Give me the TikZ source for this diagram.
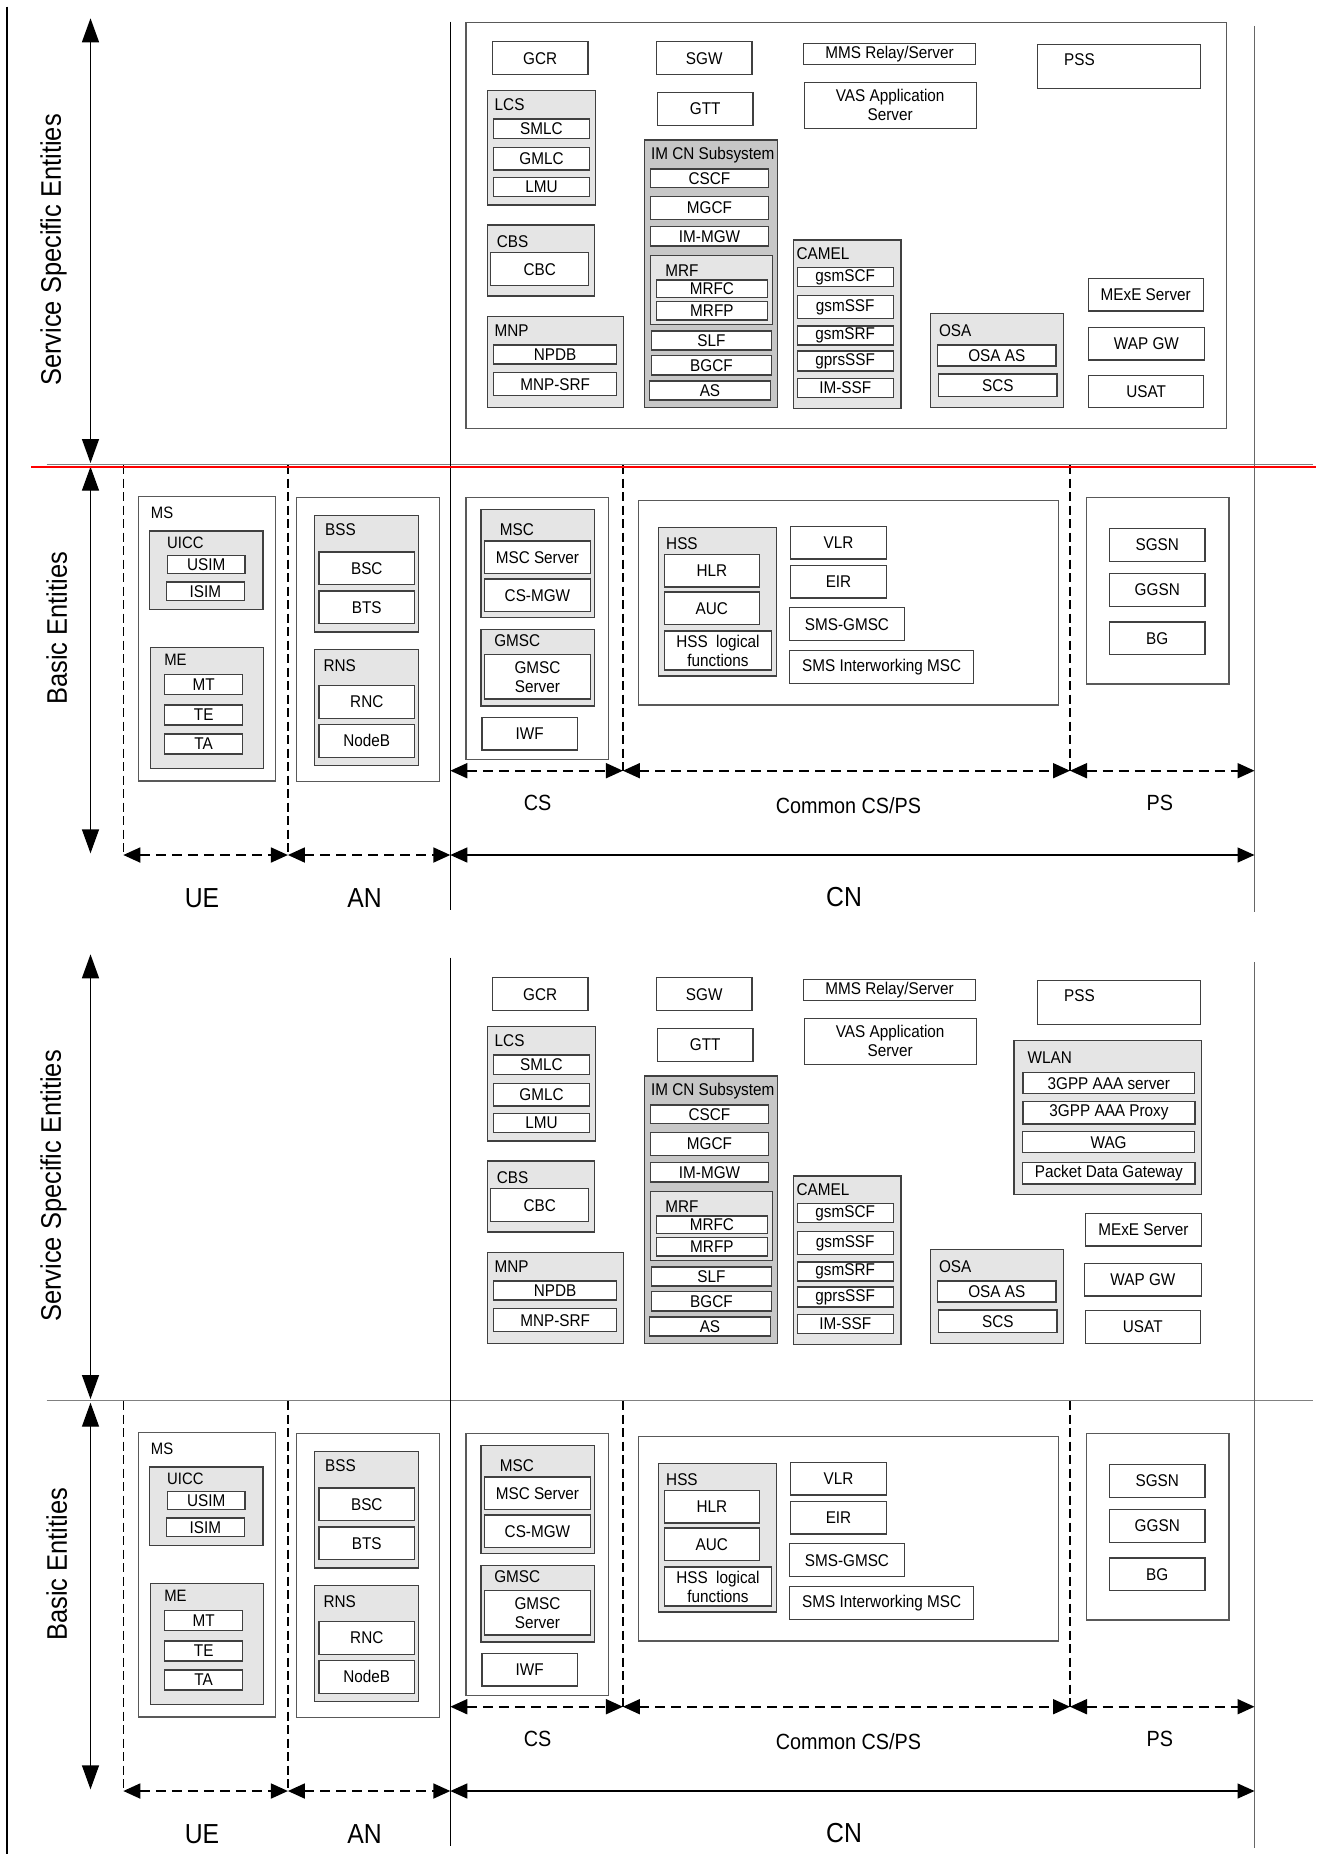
\documentclass[tikz,border=0pt]{standalone}
\usepackage{fontspec}
\setmainfont{Liberation Sans}[FakeStretch=0.9]
\usetikzlibrary{arrows.meta}
\tikzset{
  box/.style={draw=black!75, line width=1.2pt, fill=white, inner sep=0pt, align=center,
              font=\fontsize{17}{19}\selectfont},
  gfill/.style={fill=black!10},
  dfill/.style={fill=black!22},
  obox/.style={draw=black!65},
  lbl/.style={anchor=west, inner sep=0pt, font=\fontsize{17}{19}\selectfont},
  slbl/.style={anchor=west, inner sep=0pt, font=\fontsize{16.5}{19}\selectfont},
  midlbl/.style={inner sep=0pt, font=\fontsize{22}{24}\selectfont},
  biglbl/.style={inner sep=0pt, font=\fontsize{27.5}{30}\selectfont},
  sidelbl/.style={inner sep=0pt, rotate=90, font=\fontsize{28.3}{30}\selectfont},
  vdash/.style={line width=1.4pt, dash pattern=on 9pt off 4.5pt},
  hdimarrow/.style={line width=1.8pt, dash pattern=on 10pt off 6pt,
     {Triangle[length=17pt,width=15pt]}-{Triangle[length=17pt,width=15pt]}},
  bigarrow/.style={line width=1.4pt, {Triangle[length=24pt,width=17pt]}-{Triangle[length=24pt,width=17pt]}},
  cnarrow/.style={line width=1.4pt, {Triangle[length=17pt,width=15pt]}-{Triangle[length=17pt,width=15pt]}},
  sepline/.style={draw=black!50, line width=1.5pt}
}
% #1 extra style, #2 name, #3 x1, #4 y1, #5 x2, #6 y2, #7 text
\newcommand\bx[7][]{\node[box,#1,minimum width={#5pt-#3pt},minimum height={#6pt-#4pt}] (#2) at ({(#3+#5)/2},{(#4+#6)/2}) {#7};}
\begin{document}
\begin{tikzpicture}[x=1pt,y=-1pt]
\useasboundingbox (0,0) rectangle (1321,1854);
\fill[white] (0,0) rectangle (1321,1854);

% left border line
\coordinate (lt) at (7.3,6.7);
\coordinate (lb) at (7.3,1854);
\draw[line width=2pt] (lt) -- (lb);

% outer box of service specific entities (upper diagram only)
\bx[obox]{ssbox}{466}{22.7}{1226.3}{428.3}{}

\foreach \h/\off in {a/0,b/936}{
\begin{scope}[yshift=-\off pt]
  % ---------- service specific entities ----------
  \bx{gcr\h}{492.4}{41.7}{588}{74.7}{GCR}
  \bx{sgw\h}{656.5}{41.7}{752}{74.7}{SGW}
  \bx{gtt\h}{657.4}{92.3}{753}{125.3}{GTT}
  \bx{mms\h}{803.3}{43.3}{975.7}{64.3}{MMS Relay/Server}
  \bx{vas\h}{804.2}{82.3}{976.2}{128.3}{VAS Application\\Server}
  \bx{pss\h}{1037.4}{44.3}{1200.7}{88.3}{}
  \node[lbl,anchor=center] (psslbl\h) at (1079.5,59.3) {PSS};
  % LCS
  \bx[gfill]{lcs\h}{487.4}{90.7}{595.5}{205}{}
  \node[lbl] (lcslbl\h) at (494.5,105) {LCS};
  \bx{smlc\h}{493.7}{119}{589.2}{138.3}{SMLC}
  \bx{gmlc\h}{493.7}{147.3}{589.2}{170}{GMLC}
  \bx{lmu\h}{493.7}{177.3}{589.2}{196.7}{LMU}
  % CBS
  \bx[gfill]{cbs\h}{487.4}{225}{594.7}{296}{}
  \node[lbl] (cbslbl\h) at (496.6,241.7) {CBS};
  \bx{cbc\h}{490.7}{252.7}{588.8}{285.7}{CBC}
  % MNP
  \bx[gfill]{mnp\h}{487.4}{316.7}{623.3}{407.3}{}
  \node[lbl] (mnplbl\h) at (494.5,331) {MNP};
  \bx{npdb\h}{493.7}{345}{616.6}{364}{NPDB}
  \bx{mnpsrf\h}{493.7}{372.7}{616.6}{395.7}{MNP-SRF}
  % IM CN Subsystem
  \bx[dfill]{imcn\h}{644.3}{140}{777.2}{407.3}{}
  \node[lbl] (imcnlbl\h) at (650.9,155) {IM CN Subsystem};
  \bx{cscf\h}{650.4}{169}{768.6}{187.7}{CSCF}
  \bx{mgcf\h}{650.4}{196.7}{768.6}{219.3}{MGCF}
  \bx{immgw\h}{650.4}{226.7}{768.6}{246}{IM-MGW}
  \bx[gfill]{mrf\h}{650.4}{255.7}{772.5}{324.3}{}
  \node[lbl] (mrflbl\h) at (665.2,270.7) {MRF};
  \bx{mrfc\h}{656.5}{280}{767.3}{297.7}{MRFC}
  \bx{mrfp\h}{656.5}{301.7}{767.3}{320}{MRFP}
  \bx{slf\h}{651.3}{331}{771.6}{350}{SLF}
  \bx{bgcf\h}{651.3}{355.7}{771.6}{375}{BGCF}
  \bx{as\h}{649.6}{381}{770.3}{400}{AS}
  % CAMEL
  \bx[gfill]{camel\h}{793.3}{240}{901}{408.3}{}
  \node[lbl] (camellbl\h) at (796.4,254) {CAMEL};
  \bx{gsmscf\h}{797.2}{267.7}{893.2}{286.7}{gsmSCF}
  \bx{gsmssf\h}{797.2}{295.7}{893.2}{318.3}{gsmSSF}
  \bx{gsmsrf\h}{797.2}{326}{893.2}{345}{gsmSRF}
  \bx{gprsssf\h}{797.2}{351}{893.2}{371}{gprsSSF}
  \bx{imssf\h}{797.2}{378.3}{893.2}{397.7}{IM-SSF}
  % OSA
  \bx[gfill]{osa\h}{930.6}{313.3}{1063.5}{407.3}{}
  \node[lbl] (osalbl\h) at (938.8,330.7) {OSA};
  \bx{osaas\h}{937.5}{345}{1056}{366}{OSA AS}
  \bx{scs\h}{938.8}{374}{1057}{396.7}{SCS}

  % ---------- basic entities ----------
  % MS
  \bx[obox]{ms\h}{138.5}{496.7}{275.7}{781}{}
  \node[slbl] (mslbl\h) at (150.7,513.3) {MS};
  \bx[gfill]{uicc\h}{149.4}{531}{263}{609.3}{}
  \node[slbl] (uicclbl\h) at (167,542.7) {UICC};
  \bx{usim\h}{167.5}{555.3}{245}{573.7}{USIM}
  \bx{isim\h}{166.7}{582}{244.1}{600.3}{ISIM}
  \bx[gfill]{me\h}{150.3}{647.3}{263.5}{768.7}{}
  \node[slbl] (melbl\h) at (164.1,660) {ME};
  \bx{mt\h}{164.6}{674.3}{242.8}{694.3}{MT}
  \bx{te\h}{164.6}{705}{242.8}{725}{TE}
  \bx{ta\h}{164.6}{734}{242.8}{754}{TA}
  % AN
  \bx[obox]{an\h}{296.7}{497.7}{439.4}{781.7}{}
  \bx[gfill]{bss\h}{314.4}{515.7}{418.8}{632}{}
  \node[lbl] (bsslbl\h) at (325,530) {BSS};
  \bx{bsc\h}{319}{552}{414.6}{584.7}{BSC}
  \bx{bts\h}{319}{591}{414.6}{623.7}{BTS}
  \bx[gfill]{rns\h}{314.4}{649.3}{418.8}{765.3}{}
  \node[lbl] (rnslbl\h) at (323.3,665.7) {RNS};
  \bx{rnc\h}{319}{685.7}{414.6}{718.3}{RNC}
  \bx{nodeb\h}{319}{724.3}{414.6}{757.3}{NodeB}
  % CS
  \bx[obox]{csbox\h}{466}{497.7}{608.6}{759.3}{}
  \bx[gfill]{msc\h}{481}{509.3}{594.3}{617.3}{}
  \node[lbl] (msclbl\h) at (499.6,529.3) {MSC};
  \bx{mscs\h}{484.4}{541}{590.5}{573.3}{MSC Server}
  \bx{csmgw\h}{484.4}{579}{590.5}{611.7}{CS-MGW}
  \bx[gfill]{gmsc\h}{481}{629.3}{594.3}{706}{}
  \node[lbl] (gmsclbl\h) at (494.1,640.7) {GMSC};
  \bx{gmscs\h}{484.4}{654.7}{590.5}{699}{GMSC\\Server}
  \bx{iwf\h}{481.9}{717.3}{577.4}{750}{IWF}
  % Common CS/PS
  \bx[obox]{common\h}{638.5}{500.7}{1058.2}{705}{}
  \bx[gfill]{hss\h}{658.2}{527.3}{776.4}{676}{}
  \node[lbl] (hsslbl\h) at (666,543.3) {HSS};
  \bx{hlr\h}{664.3}{554.3}{759.4}{587}{HLR}
  \bx{auc\h}{664.3}{592}{759.4}{624.3}{AUC}
  \bx{hsslf\h}{664.3}{631}{771.6}{670}{HSS~~logical\\functions}
  \bx{vlr\h}{790.7}{526.3}{886.3}{559}{VLR}
  \bx{eir\h}{790.7}{565.3}{886.3}{598}{EIR}
  \bx{smsgmsc\h}{789.4}{607.7}{904.5}{640.7}{SMS-GMSC}
  \bx{smsiw\h}{789.8}{650.3}{973.6}{683.3}{SMS Interworking MSC}
  % PS
  \bx[obox]{psbox\h}{1086.5}{497.7}{1228.9}{684}{}
  \bx{sgsn\h}{1109.5}{528.7}{1205}{561.3}{SGSN}
  \bx{ggsn\h}{1109.5}{573.3}{1205}{606.3}{GGSN}
  \bx{bg\h}{1109.5}{622}{1205}{654.7}{BG}

  % ---------- frame lines ----------
  \coordinate (sep1\h) at (46.7,464.3);
  \coordinate (sep2\h) at (1312.7,464.3);
  \draw[sepline] (sep1\h) -- (sep2\h);
  \coordinate (cst\h) at (450.3,21.7);
  \coordinate (csb\h) at (450.3,910);
  \draw[line width=1pt] (cst\h) -- (csb\h);
  \coordinate (rt\h) at (1254.5,26);
  \coordinate (rb\h) at (1254.5,911.7);
  \draw[black!60, line width=1.6pt] (rt\h) -- (rb\h);
  % dashed verticals
  \coordinate (d1t\h) at (123.3,465);  \coordinate (d1b\h) at (123.3,855);
  \coordinate (d2t\h) at (287.9,465);  \coordinate (d2b\h) at (287.9,855);
  \coordinate (d3t\h) at (622.9,465);  \coordinate (d3b\h) at (622.9,770.7);
  \coordinate (d4t\h) at (1070,465);   \coordinate (d4b\h) at (1070,770.7);
  \draw[vdash] (d1t\h) -- (d1b\h);
  \draw[vdash] (d2t\h) -- (d2b\h);
  \draw[vdash] (d3t\h) -- (d3b\h);
  \draw[vdash] (d4t\h) -- (d4b\h);
  % dimension arrows
  \coordinate (csl\h) at (450.3,770.7);
  \coordinate (psr\h) at (1254.5,770.7);
  \coordinate (cnl\h) at (450.3,855);
  \coordinate (cnr\h) at (1254.5,855);
  \draw[hdimarrow] (csl\h) -- (d3b\h);
  \draw[hdimarrow] (d3b\h) -- (d4b\h);
  \draw[hdimarrow] (d4b\h) -- (psr\h);
  \draw[hdimarrow] (d1b\h) -- (d2b\h);
  \draw[hdimarrow] (d2b\h) -- (cnl\h);
  \draw[cnarrow] (cnl\h) -- (cnr\h);
  % vertical big arrows
  \coordinate (sse1\h) at (90.5,18.3);
  \coordinate (sse2\h) at (90.5,463);
  \coordinate (be1\h) at (90.5,466.7);
  \coordinate (be2\h) at (90.5,853.3);
  \draw[bigarrow] (sse1\h) -- (sse2\h);
  \draw[bigarrow] (be1\h) -- (be2\h);
  % labels
  \node[sidelbl] (sselbl\h) at (53.5,250) {Service Specific Entities};
  \node[sidelbl] (belbl\h) at (56.8,628.3) {Basic Entities};
  \node[midlbl] (cslbl\h) at (537.5,803.3) {CS};
  \node[midlbl] (cmlbl\h) at (848.5,806) {Common CS/PS};
  \node[midlbl] (pslbl\h) at (1159.9,803.3) {PS};
  \node[biglbl] (uelbl\h) at (202,898.3) {UE};
  \node[biglbl] (anlbl\h) at (364.5,898.3) {AN};
  \node[biglbl] (cnlbl\h) at (844.1,896.7) {CN};
\end{scope}
}

% red marker line (upper diagram)
\coordinate (red1) at (31,466.7);
\coordinate (red2) at (1315.7,466.7);
\draw[red, line width=2.2pt] (red1) -- (red2);

% right column, upper diagram
\bx{mexea}{1088.2}{278.3}{1203.3}{311}{MExE Server}
\bx{wapa}{1088.2}{327.3}{1204.6}{360}{WAP GW}
\bx{usata}{1088.6}{375.7}{1203.7}{407.7}{USAT}

% right column, lower diagram
\bx{mexeb}{1085.6}{1213.7}{1201.1}{1246}{MExE Server}
\bx{wapb}{1084.7}{1263.3}{1201.1}{1296}{WAP GW}
\bx{usatb}{1085.2}{1310.7}{1200.3}{1343.3}{USAT}

% WLAN (lower diagram)
\bx[gfill]{wlan}{1014}{1040.7}{1201.6}{1194.3}{}
\node[lbl] (wlanlbl) at (1027.4,1057.7) {WLAN};
\bx{aaas}{1023}{1072.7}{1194.6}{1093.7}{3GPP AAA server}
\bx{aaap}{1023}{1101.3}{1195}{1124}{3GPP AAA Proxy}
\bx{wag}{1022.6}{1131.7}{1194.6}{1152.7}{WAG}
\bx{pdg}{1022.6}{1162.7}{1195}{1184}{Packet Data Gateway}
\end{tikzpicture}
\end{document}
